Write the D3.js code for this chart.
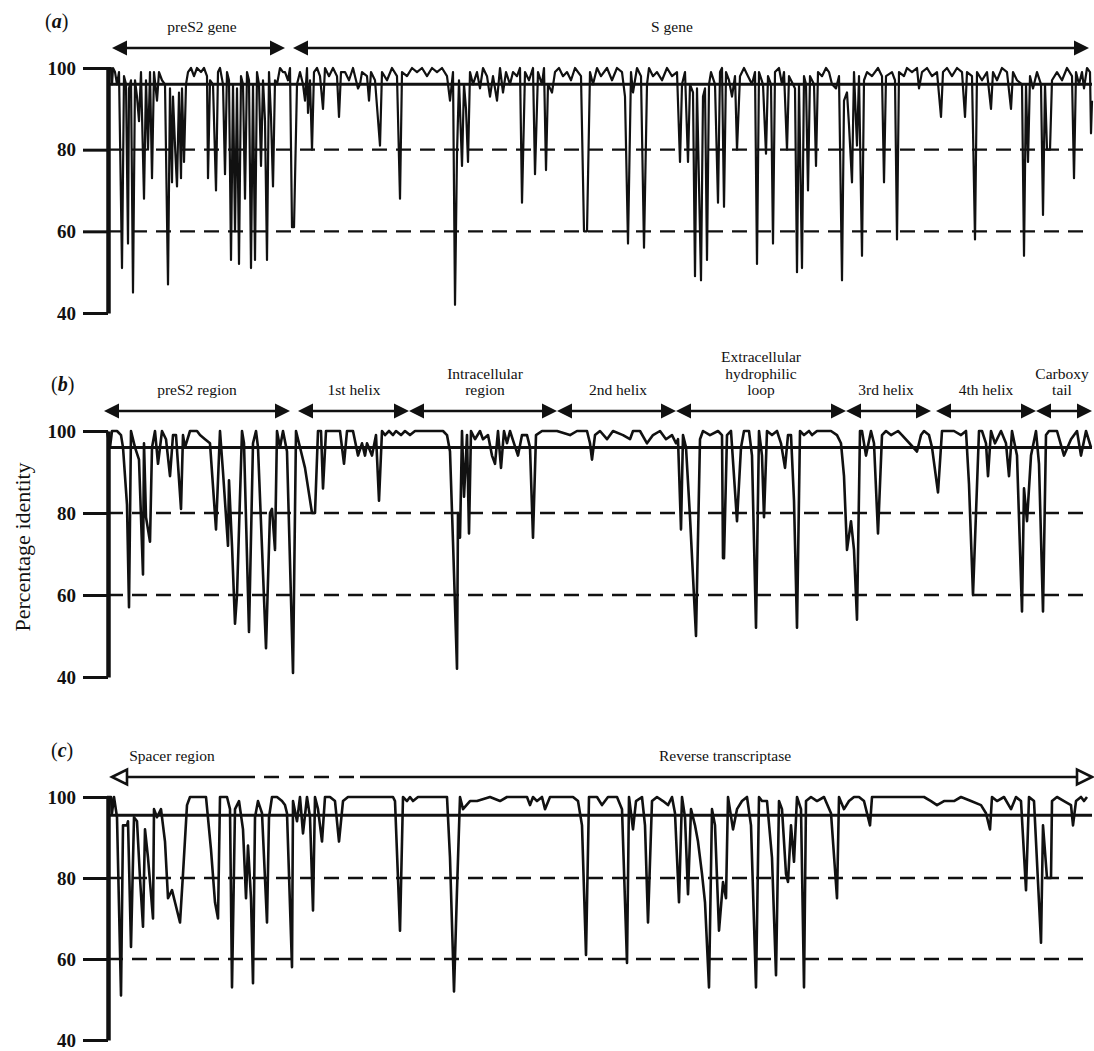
<!DOCTYPE html>
<html>
<head>
<meta charset="utf-8">
<script src="https://cdn.jsdelivr.net/npm/d3@7"></script>
<style>
  body { margin: 0; background: #fff; }
  svg text { font-family: "Liberation Serif", "DejaVu Serif", serif; fill: #111; }
</style>
</head>
<body>
<svg id="chart"></svg>
<script>
const yTicks = [40, 60, 80, 100];
const dashedLevels = [80, 60];
const panelLetters = ['a', 'b', 'c'];
const thresholds = [96, 96, 95.5];

// [alignment position, % identity]
const identityA = [[0,100],[4,100],[5,96],[6,100],[8,99],[10,96],[12,99],[15,51],[17,98],[19,96],[21,57],[22,95],[24,97],[26,45],[28,97],[30,93],[32,87],[34,99],[37,68],[39,97],[41,80],[43,99],[45,73],[47,99],[50,92],[52,99],[55,97],[58,96],[61,47],[63,95],[65,72],[66,93],[68,81],[70,71],[72,94],[74,73],[75,95],[77,77],[79,96],[81,99],[84,100],[87,98],[90,100],[94,99],[97,100],[100,98],[101,73],[103,97],[106,96],[109,70],[111,99],[113,100],[116,96],[118,74],[120,99],[122,97],[124,53],[126,96],[128,60],[130,95],[132,52],[134,98],[136,96],[138,68],[140,99],[142,97],[144,51],[146,96],[148,53],[150,99],[152,96],[154,76],[156,97],[158,87],[160,53],[162,99],[164,88],[166,71],[168,97],[170,96],[173,100],[176,99],[178,99],[181,97],[183,100],[185,61],[187,61],[190,96],[193,99],[196,96],[198,92],[200,100],[201,89],[203,97],[205,80],[207,99],[210,100],[213,98],[216,90],[218,100],[222,98],[226,100],[230,98],[232,88],[234,99],[238,99],[242,97],[246,100],[251,95],[253,96],[255,99],[260,98],[262,92],[264,99],[268,97],[273,81],[275,99],[280,97],[285,100],[290,98],[293,68],[295,99],[300,98],[305,100],[310,99],[315,100],[320,98],[325,100],[330,99],[335,100],[340,98],[343,92],[346,99],[348,42],[350,79],[352,97],[355,76],[357,96],[359,90],[361,77],[363,99],[366,96],[370,99],[373,95],[376,100],[380,98],[383,93],[386,98],[390,92],[393,100],[396,94],[399,99],[403,96],[406,99],[410,98],[413,100],[415,67],[418,99],[422,97],[426,100],[428,74],[431,99],[435,96],[437,100],[439,75],[441,96],[445,94],[448,99],[452,100],[456,98],[460,99],[464,97],[468,100],[474,98],[477,60],[480,60],[483,99],[486,96],[490,100],[494,98],[500,100],[505,97],[510,100],[515,99],[518,93],[521,57],[524,99],[526,94],[530,100],[534,98],[537,56],[540,96],[542,100],[546,98],[550,99],[555,97],[560,100],[565,98],[570,99],[573,77],[575,96],[578,99],[581,77],[583,96],[586,94],[588,49],[590,95],[594,48],[596,93],[598,95],[600,53],[602,96],[604,99],[608,96],[611,67],[613,99],[615,100],[617,66],[619,99],[622,97],[625,93],[628,98],[630,80],[633,98],[637,100],[641,98],[645,96],[648,99],[650,52],[652,99],[656,96],[659,79],[661,98],[664,96],[666,57],[668,99],[672,100],[675,96],[677,99],[680,80],[682,98],[686,96],[688,95],[690,50],[692,96],[695,51],[697,98],[699,96],[701,70],[703,98],[707,96],[709,76],[711,99],[715,98],[719,100],[722,99],[725,96],[729,95],[732,98],[735,48],[737,92],[740,94],[742,86],[745,72],[747,99],[750,81],[752,98],[755,54],[757,97],[760,99],[765,98],[771,100],[775,98],[777,72],[779,98],[785,99],[788,97],[790,58],[792,99],[797,98],[800,100],[805,99],[810,100],[812,95],[815,99],[820,100],[825,98],[830,99],[834,88],[836,99],[840,100],[845,98],[850,100],[855,99],[858,88],[860,99],[865,98],[868,58],[870,99],[875,97],[880,99],[884,90],[886,99],[890,97],[895,100],[900,99],[904,90],[906,99],[910,97],[915,96],[917,54],[919,96],[921,77],[923,98],[926,95],[930,99],[934,96],[936,64],[938,96],[940,80],[943,80],[945,97],[950,99],[955,97],[960,100],[965,98],[967,73],[969,99],[972,96],[975,99],[977,95],[980,100],[983,99],[984,84],[985,92]];

const identityB = [[0,100],[3,96],[5,100],[10,100],[14,99],[16,96],[20,82],[22,57],[24,100],[28,96],[32,93],[36,65],[37,97],[39,79],[43,73],[45,96],[48,100],[51,92],[55,100],[59,98],[63,89],[66,99],[69,99],[74,81],[76,99],[78,96],[83,100],[90,100],[93,99],[98,98],[103,97],[109,76],[113,100],[116,90],[121,72],[122,88],[125,72],[128,53],[130,60],[135,100],[137,97],[142,51],[146,97],[149,100],[151,96],[159,47],[163,80],[165,81],[168,71],[170,100],[173,96],[176,100],[180,95],[186,41],[189,100],[192,97],[198,91],[205,80],[208,80],[211,100],[214,100],[216,86],[219,100],[223,100],[226,100],[233,100],[237,92],[240,100],[246,100],[251,94],[255,97],[258,94],[260,97],[265,94],[269,99],[272,83],[275,100],[278,99],[282,100],[286,99],[289,100],[294,99],[298,100],[303,99],[308,100],[313,100],[320,100],[336,100],[340,99],[343,95],[346,73],[350,42],[351,80],[353,74],[355,100],[357,84],[360,99],[362,75],[364,100],[368,98],[373,100],[376,98],[381,99],[385,94],[388,92],[391,100],[394,91],[397,100],[400,97],[403,100],[407,97],[411,94],[415,99],[420,99],[423,96],[426,74],[429,99],[435,100],[440,100],[450,100],[463,99],[470,100],[480,100],[483,97],[485,93],[488,99],[493,100],[500,98],[506,100],[516,99],[523,98],[526,100],[533,100],[540,97],[546,99],[553,100],[559,98],[565,99],[569,97],[571,98],[574,76],[576,99],[579,96],[583,79],[589,50],[593,98],[596,100],[603,99],[611,100],[615,99],[616,69],[617,69],[620,99],[624,100],[627,89],[630,78],[634,96],[637,100],[642,100],[645,94],[649,52],[652,100],[655,94],[657,79],[660,100],[665,99],[670,100],[674,97],[678,91],[681,99],[684,99],[687,83],[690,52],[693,100],[697,99],[702,100],[705,99],[710,100],[724,100],[730,99],[734,97],[737,89],[740,71],[744,78],[747,71],[750,54],[753,100],[755,100],[759,94],[764,100],[767,97],[771,75],[775,99],[779,100],[784,99],[791,100],[795,99],[810,95],[814,99],[817,100],[822,99],[825,96],[831,85],[835,100],[840,100],[847,100],[854,99],[859,100],[862,87],[866,60],[872,100],[875,100],[879,97],[881,89],[884,100],[888,97],[894,100],[899,97],[902,89],[905,100],[910,94],[915,56],[917,86],[920,78],[924,94],[929,100],[932,92],[936,56],[939,99],[942,100],[950,100],[957,94],[964,98],[970,100],[974,94],[979,100],[984,96]];

const identityC = [[0,100],[4,100],[5,96],[7,100],[10,95],[14,51],[16,93],[20,93],[21,94],[24,63],[27,95],[30,94],[33,80],[36,68],[38,92],[41,85],[46,70],[47,97],[50,95],[54,97],[58,89],[61,75],[65,77],[68,74],[73,69],[76,81],[80,98],[83,100],[88,100],[92,100],[96,100],[99,100],[104,87],[108,74],[111,70],[113,100],[120,100],[123,97],[125,53],[128,97],[132,99],[136,92],[139,75],[141,88],[144,75],[146,54],[148,95],[151,99],[155,96],[160,69],[162,95],[165,100],[170,100],[175,99],[178,98],[180,96],[185,58],[186,99],[190,94],[193,100],[196,91],[200,100],[203,95],[206,72],[208,100],[211,97],[215,89],[218,100],[223,100],[228,99],[232,89],[236,99],[241,100],[246,100],[260,100],[286,100],[288,99],[293,67],[296,100],[300,99],[303,100],[306,99],[311,100],[340,100],[343,85],[347,52],[350,77],[353,100],[356,97],[363,99],[370,99],[383,100],[393,99],[400,100],[420,100],[423,98],[426,100],[430,99],[435,100],[438,97],[443,100],[466,100],[471,99],[475,93],[479,61],[482,100],[490,100],[495,98],[501,100],[510,100],[515,97],[520,59],[522,100],[526,92],[529,99],[535,100],[538,93],[541,69],[545,99],[550,100],[556,99],[561,98],[565,100],[568,96],[572,74],[575,100],[578,95],[581,76],[584,97],[588,93],[591,89],[595,81],[598,74],[602,53],[605,97],[608,93],[612,67],[616,79],[619,75],[621,100],[626,92],[630,97],[635,99],[640,100],[644,93],[649,53],[652,100],[655,99],[660,99],[665,85],[669,56],[672,99],[675,97],[679,81],[681,79],[684,93],[687,84],[690,100],[694,97],[697,53],[699,99],[704,100],[710,99],[717,100],[724,96],[730,75],[732,100],[737,97],[742,99],[747,100],[752,100],[757,99],[763,93],[765,100],[770,100],[817,100],[824,99],[830,98],[837,99],[847,99],[854,100],[864,99],[874,98],[879,96],[883,92],[885,100],[890,99],[897,100],[904,97],[909,100],[914,99],[919,77],[922,100],[927,99],[934,64],[936,93],[940,80],[944,80],[945,99],[950,100],[957,99],[964,98],[966,93],[969,99],[974,100],[977,99],[980,100]];

// gene / protein regions along the alignment
const regionsA = [
  {lines: ['preS2 gene'], start: 5, end: 178, labelAt: 95},
  {lines: ['S gene'], start: 186, end: 982, labelAt: 565}
];
const regionsB = [
  {lines: ['preS2 region'], start: -3, end: 183, labelAt: 90},
  {lines: ['1st helix'], start: 191, end: 302, labelAt: 247},
  {lines: ['Intracellular', 'region'], start: 302, end: 450, labelAt: 378},
  {lines: ['2nd helix'], start: 450, end: 569, labelAt: 511},
  {lines: ['Extracellular', 'hydrophilic', 'loop'], start: 569, end: 739, labelAt: 654},
  {lines: ['3rd helix'], start: 739, end: 824, labelAt: 779},
  {lines: ['4th helix'], start: 829, end: 929, labelAt: 879},
  {lines: ['Carboxy', 'tail'], start: 929, end: 985, labelAt: 955}
];
const regionsC = [
  {lines: ['Spacer region'], labelAt: 65},
  {lines: ['Reverse transcriptase'], labelAt: 618}
];
const spacerArrow = {start: 5, end: 985, gapFrom: 148, gapTo: 253};

class IdentityPanel {
  constructor(_config) {
    this.config = {
      svg: _config.svg,
      top: _config.top,
      bottom: _config.bottom,
      left: 108,
      right: 1092,
      lineWidth: _config.lineWidth || 2.4
    };
  }

  initVis(props) {
    let vis = this;
    vis.letter = props.letter;
    vis.data = props.data;
    vis.regions = props.regions;
    vis.threshold = props.threshold;
    vis.openArrow = props.openArrow;

    vis.x = d3.scaleLinear().domain([0, 985]).range([vis.config.left - 1, vis.config.right]);
    vis.y = d3.scaleLinear().domain([40, 100]).range([vis.config.bottom, vis.config.top]);
    vis.chart = vis.config.svg.append('g');
    vis.render();
  }

  render() {
    let vis = this;
    const x = vis.x, y = vis.y;

    vis.chart.selectAll('.grid')
        .data(dashedLevels)
        .enter().append('line')
        .attr('class', 'grid')
        .attr('x1', vis.config.left).attr('x2', vis.config.right)
        .attr('y1', d => y(d)).attr('y2', d => y(d))
        .attr('stroke', '#111')
        .attr('stroke-width', 2.4)
        .attr('stroke-dasharray', '15,9');

    vis.chart.append('line')
        .attr('x1', vis.config.left).attr('x2', vis.config.right)
        .attr('y1', y(vis.threshold)).attr('y2', y(vis.threshold))
        .attr('stroke', '#111')
        .attr('stroke-width', 3);

    const line = d3.line().x(d => x(d[0])).y(d => y(d[1]));
    vis.chart.append('path')
        .datum(vis.data)
        .attr('d', line)
        .attr('fill', 'none')
        .attr('stroke', '#111')
        .attr('stroke-width', vis.config.lineWidth)
        .attr('stroke-linejoin', 'round');

    const axis = d3.axisLeft(y).tickValues(yTicks).tickSize(25).tickSizeOuter(0).tickPadding(7);
    const gAxis = vis.chart.append('g')
        .attr('transform', `translate(${vis.config.left},0)`)
        .call(axis);
    gAxis.select('.domain').attr('stroke', '#111').attr('stroke-width', 4.5);
    gAxis.selectAll('.tick line').attr('stroke', '#111').attr('stroke-width', 3);
    gAxis.selectAll('.tick text')
        .attr('fill', '#111')
        .style('font-family', '"Liberation Serif", serif')
        .style('font-size', '19px')
        .style('font-weight', 'bold');

    const label = vis.chart.append('text')
        .attr('x', vis.letter === 'a' ? 45 : 51)
        .attr('y', vis.config.top - 40)
        .style('font-size', '20px');
    label.append('tspan').text('(');
    label.append('tspan').style('font-style', 'italic').style('font-weight', 'bold').text(vis.letter);
    label.append('tspan').text(')');

    vis.renderRegions();
  }

  renderRegions() {
    let vis = this;
    const x = vis.x;
    const ay = vis.config.top - 20;
    const hl = 15, hw = 7.5;

    const head = (tip, dir) => {
      const b = tip + dir * hl;
      return `M${tip},${ay}L${b},${ay - hw}L${b},${ay + hw}Z`;
    };

    if (vis.openArrow) {
      const a = vis.openArrow;
      const g = vis.chart.append('g').attr('stroke', '#111').attr('stroke-width', 2.6);
      g.append('line').attr('x1', x(a.start) + hl).attr('x2', x(a.gapFrom)).attr('y1', ay).attr('y2', ay);
      g.append('line').attr('x1', x(a.gapFrom) + 9).attr('x2', x(a.gapTo)).attr('y1', ay).attr('y2', ay)
          .attr('stroke-dasharray', '15,10');
      g.append('line').attr('x1', x(a.gapTo)).attr('x2', x(a.end) - hl).attr('y1', ay).attr('y2', ay);
      g.append('path').attr('d', head(x(a.start), 1)).attr('fill', '#fff');
      g.append('path').attr('d', head(x(a.end), -1)).attr('fill', '#fff');
    } else {
      const arrows = vis.chart.selectAll('.region')
          .data(vis.regions)
          .enter().append('g')
          .attr('class', 'region');
      arrows.append('line')
          .attr('x1', d => x(d.start) + 4).attr('x2', d => x(d.end) - 4)
          .attr('y1', ay).attr('y2', ay)
          .attr('stroke', '#111').attr('stroke-width', 2.4);
      arrows.append('path').attr('d', d => head(x(d.start), 1)).attr('fill', '#111');
      arrows.append('path').attr('d', d => head(x(d.end), -1)).attr('fill', '#111');
    }

    // stacked labels use a tight leading, as in the printed figure
    const texts = vis.chart.selectAll('.region-label')
        .data(vis.regions)
        .enter().append('text')
        .attr('class', 'region-label')
        .attr('text-anchor', 'middle')
        .style('font-size', '15.5px');
    texts.each(function(d) {
      const n = d.lines.length;
      d3.select(this).selectAll('tspan')
          .data(d.lines)
          .enter().append('tspan')
          .attr('x', x(d.labelAt))
          .attr('y', (t, i) => vis.config.top - 36 - (n - 1 - i) * 16.5)
          .text(t => t);
    });
  }
}

const svg = d3.select('#chart')
    .attr('width', 1094)
    .attr('height', 1051);

const panelA = new IdentityPanel({svg: svg, top: 68, bottom: 313, lineWidth: 2.2});
panelA.initVis({letter: panelLetters[0], data: identityA, regions: regionsA, threshold: thresholds[0]});

const panelB = new IdentityPanel({svg: svg, top: 431, bottom: 677, lineWidth: 2.6});
panelB.initVis({letter: panelLetters[1], data: identityB, regions: regionsB, threshold: thresholds[1]});

const panelC = new IdentityPanel({svg: svg, top: 797, bottom: 1040, lineWidth: 2.6});
panelC.initVis({letter: panelLetters[2], data: identityC, regions: regionsC, threshold: thresholds[2], openArrow: spacerArrow});

svg.append('text')
    .attr('transform', 'translate(30,547) rotate(-90)')
    .attr('text-anchor', 'middle')
    .style('font-size', '22px')
    .text('Percentage identity');
</script>
</body>
</html>
